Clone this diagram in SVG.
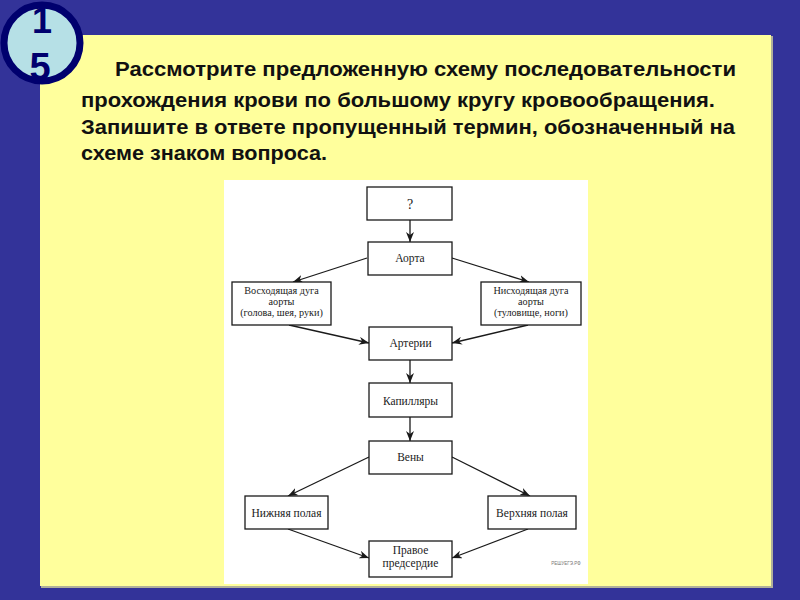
<svg xmlns="http://www.w3.org/2000/svg" width="800" height="600" viewBox="0 0 800 600">
<defs>
<style>
.box{fill:#fff;stroke:#1a1a1a;stroke-width:1.3}
.lbl{font-family:"Liberation Serif","DejaVu Serif",serif;font-size:11.5px;fill:#1a1a1a;text-anchor:middle}
.sm{font-size:10.2px}
.con{stroke:#1a1a1a;stroke-width:1.3;fill:none;marker-end:url(#ah)}
.ttl{font-family:"Liberation Sans",Arial,sans-serif;font-weight:bold;font-size:19.5px;fill:#111}
.num{font-family:"Liberation Sans",Arial,sans-serif;font-weight:bold;font-size:38px;fill:#00006e;text-anchor:middle}
</style>
<marker id="ah" viewBox="0 0 10 8" refX="10" refY="4" markerWidth="10" markerHeight="8" markerUnits="userSpaceOnUse" orient="auto">
<path d="M0,0 L10,4 L0,8 L3,4 Z" fill="#1a1a1a"/>
</marker>
</defs>
<rect x="0" y="0" width="800" height="600" fill="#333399"/>
<rect x="41" y="36" width="732" height="552" fill="#b0b09a"/>
<rect x="40" y="35" width="731" height="551" fill="#ffff9c"/>
<g id="badge">
<circle cx="42" cy="43" r="38" fill="#b6e0e6" stroke="#00006e" stroke-width="7"/>
<text class="num" x="42" y="33" style="font-size:36px">1</text>
<text class="num" x="40" y="80">5</text>
</g>
<g id="title">
<text class="ttl" x="115" y="76" textLength="621" lengthAdjust="spacingAndGlyphs">Рассмотрите предложенную схему последовательности</text>
<text class="ttl" x="81" y="107" textLength="634" lengthAdjust="spacingAndGlyphs">прохождения крови по большому кругу кровообращения.</text>
<text class="ttl" x="81" y="134" textLength="654" lengthAdjust="spacingAndGlyphs">Запишите в ответе пропущенный термин, обозначенный на</text>
<text class="ttl" x="81" y="160" textLength="246" lengthAdjust="spacingAndGlyphs">схеме знаком вопроса.</text>
</g>
<rect x="224" y="180" width="364" height="404" fill="#fff"/>
<g id="connectors">
<line class="con" x1="410" y1="220" x2="410" y2="242"/>
<line class="con" x1="367" y1="258" x2="293" y2="282"/>
<line class="con" x1="452" y1="258" x2="529" y2="282"/>
<line class="con" x1="289" y1="325" x2="369" y2="343"/>
<line class="con" x1="528" y1="325" x2="452" y2="343"/>
<line class="con" x1="410" y1="360" x2="410" y2="383"/>
<line class="con" x1="410" y1="417" x2="410" y2="441"/>
<line class="con" x1="369" y1="457" x2="288" y2="496"/>
<line class="con" x1="452" y1="457" x2="530" y2="496"/>
<line class="con" x1="288" y1="529" x2="369" y2="558"/>
<line class="con" x1="528" y1="529" x2="452" y2="558"/>
</g>
<g id="n-q"><rect class="box" x="367" y="187" width="85" height="33"/><text class="lbl" x="410" y="209" style="font-size:14px">?</text></g>
<g id="n-aorta"><rect class="box" x="368" y="242" width="84" height="33"/><text class="lbl" x="410" y="262">Аорта</text></g>
<g id="n-asc"><rect class="box" x="232" y="282" width="99" height="43"/>
<text class="lbl sm" x="281.5" y="294">Восходящая дуга</text>
<text class="lbl sm" x="281.5" y="305">аорты</text>
<text class="lbl sm" x="281.5" y="316">(голова, шея, руки)</text></g>
<g id="n-desc"><rect class="box" x="481" y="282" width="100" height="43"/>
<text class="lbl sm" x="531" y="294">Нисходящая дуга</text>
<text class="lbl sm" x="531" y="305">аорты</text>
<text class="lbl sm" x="531" y="316">(туловище, ноги)</text></g>
<g id="n-art"><rect class="box" x="369" y="327" width="83" height="33"/><text class="lbl" x="410.5" y="347">Артерии</text></g>
<g id="n-cap"><rect class="box" x="369" y="383" width="83" height="34"/><text class="lbl" x="410.5" y="405">Капилляры</text></g>
<g id="n-ven"><rect class="box" x="369" y="441" width="83" height="33"/><text class="lbl" x="410.5" y="461">Вены</text></g>
<g id="n-low"><rect class="box" x="245" y="496" width="83" height="33"/><text class="lbl" x="286.5" y="517">Нижняя полая</text></g>
<g id="n-up"><rect class="box" x="488" y="496" width="88" height="33"/><text class="lbl" x="532" y="517">Верхняя полая</text></g>
<g id="n-ra"><rect class="box" x="369" y="541" width="83" height="36"/>
<text class="lbl" x="410.5" y="554">Правое</text>
<text class="lbl" x="410.5" y="567">предсердие</text></g>
<text x="566" y="565" style="font-family:'Liberation Sans',Arial,sans-serif;font-size:4.5px;fill:#777;text-anchor:middle">РЕШУЕГЭ.РФ</text>
</svg>
